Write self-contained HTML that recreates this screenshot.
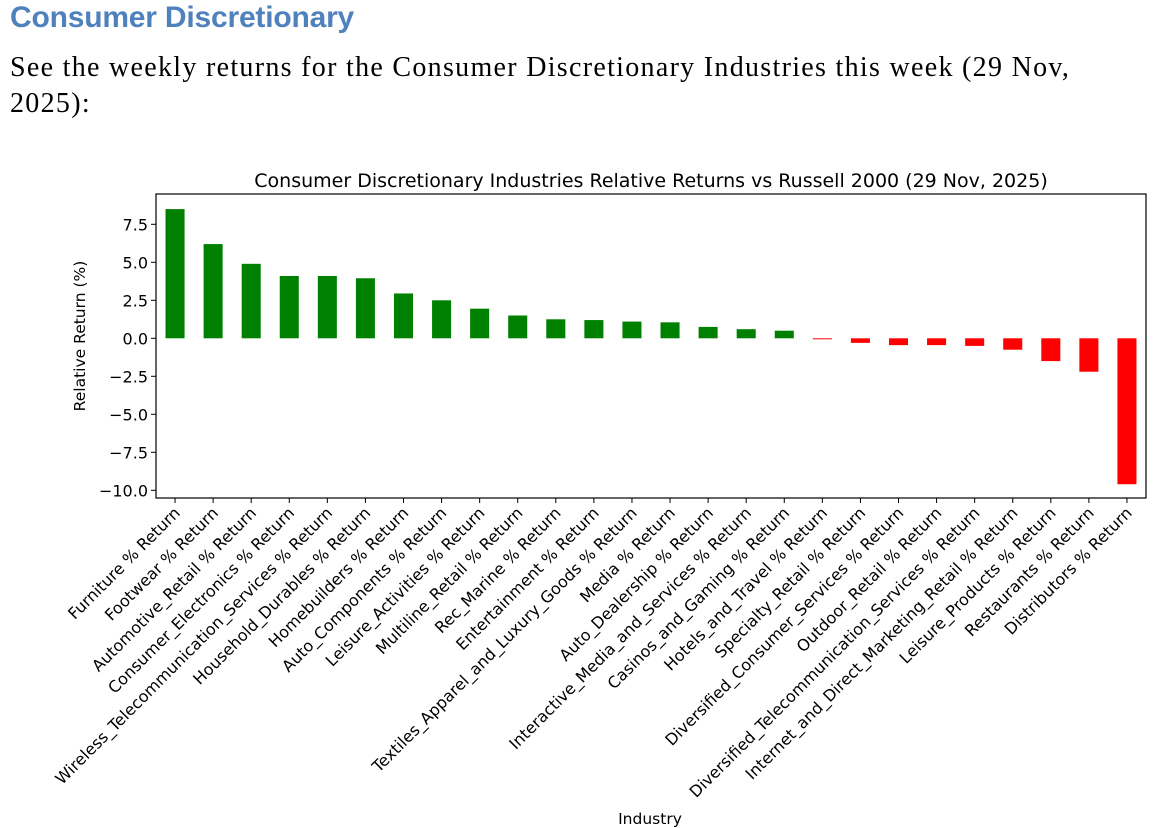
<!DOCTYPE html>
<html><head><meta charset="utf-8"><style>
body{margin:0;background:#fff;width:1154px;height:828px;overflow:hidden;position:relative}
#h{position:absolute;left:10px;top:1px;font:bold 30px "Liberation Sans",sans-serif;color:#4f81bd;letter-spacing:-0.2px}
#p{position:absolute;left:10px;top:50px;font:28px/36px "Liberation Serif",serif;color:#000;width:1140px;letter-spacing:1.3px;white-space:nowrap}
svg{position:absolute;left:0;top:0}
text{font-family:"DejaVu Sans","Liberation Sans",sans-serif;fill:#000}
</style></head><body>
<div id="h">Consumer Discretionary</div>
<div id="p">See the weekly returns for the Consumer Discretionary Industries this week (29 Nov,<br>2025):</div>
<svg id="c" width="1154" height="828"></svg>
<script>
const categories=["Furniture % Return","Footwear % Return","Automotive_Retail % Return","Consumer_Electronics % Return","Wireless_Telecommunication_Services % Return","Household_Durables % Return","Homebuilders % Return","Auto_Components % Return","Leisure_Activities % Return","Multiline_Retail % Return","Rec_Marine % Return","Entertainment % Return","Textiles_Apparel_and_Luxury_Goods % Return","Media % Return","Auto_Dealership % Return","Interactive_Media_and_Services % Return","Casinos_and_Gaming % Return","Hotels_and_Travel % Return","Specialty_Retail % Return","Diversified_Consumer_Services % Return","Outdoor_Retail % Return","Diversified_Telecommunication_Services % Return","Internet_and_Direct_Marketing_Retail % Return","Leisure_Products % Return","Restaurants % Return","Distributors % Return"];
const values=[8.5,6.2,4.9,4.1,4.1,3.95,2.95,2.5,1.95,1.5,1.25,1.2,1.1,1.05,0.75,0.6,0.5,-0.05,-0.3,-0.45,-0.45,-0.5,-0.75,-1.5,-2.2,-9.6];
const yTicks=[7.5,5.0,2.5,0.0,-2.5,-5.0,-7.5,-10.0];
const NS="http://www.w3.org/2000/svg",svg=document.getElementById('c');
const L=156,R=1146,T=194,B=498;
const step=(R-L)/categories.length;
const x=i=>L+step*(i+0.5);
const y=v=>338.3-v*15.2;
function el(t,a,p){const e=document.createElementNS(NS,t);for(const k in a)e.setAttribute(k,a[k]);(p||svg).appendChild(e);return e;}
const title=el('text',{x:(L+R)/2,y:187,'text-anchor':'middle','font-size':'19'});title.textContent="Consumer Discretionary Industries Relative Returns vs Russell 2000 (29 Nov, 2025)";


values.forEach((v,i)=>{const y0=y(Math.max(v,0)),y1=y(Math.min(v,0));
const r=el('rect',{x:x(i)-step/4,y:y0,width:step/2,height:Math.max(y1-y0,1),fill:v>=0?'#008000':'#ff0000'});


el('line',{x1:x(i),x2:x(i),y1:B,y2:B+5,stroke:'#000','stroke-width':1});
const t=el('text',{x:0,y:0,'text-anchor':'end','font-size':'16',transform:`translate(${x(i)+6},${B+16}) rotate(-45)`});t.textContent=categories[i];


});
yTicks.forEach(v=>{el('line',{x1:L-5,x2:L,y1:y(v),y2:y(v),stroke:'#000'});
const t=el('text',{x:L-8,y:y(v)+6,'text-anchor':'end','font-size':'16'});t.textContent=v.toFixed(1).replace('-','\u2212');

});
const fr=el('rect',{x:L,y:T,width:R-L,height:B-T,fill:'none',stroke:'#000','stroke-width':1.2});


const yl=el('text',{x:0,y:0,'text-anchor':'middle','font-size':'15.5',transform:`translate(85,${(T+B)/2-10}) rotate(-90)`});yl.textContent="Relative Return (%)";


const xl=el('text',{x:650,y:824,'text-anchor':'middle','font-size':'15.5'});xl.textContent="Industry";


</script>
</body></html>
